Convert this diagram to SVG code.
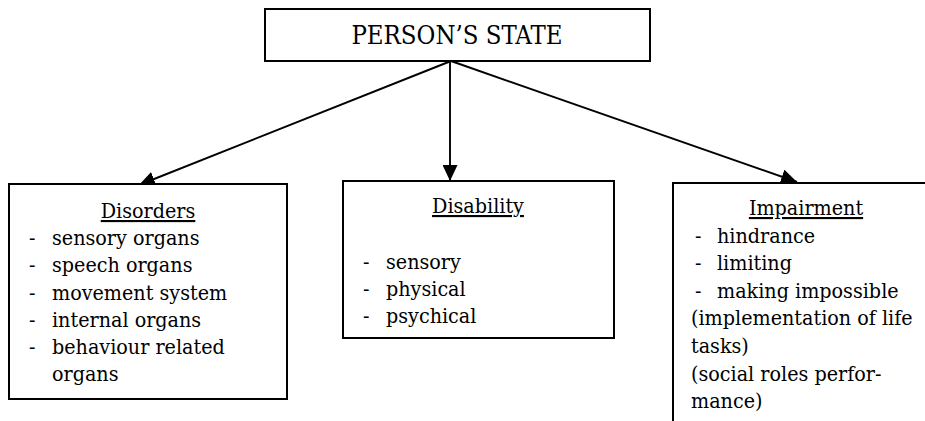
<svg xmlns="http://www.w3.org/2000/svg" width="925" height="421" viewBox="0 0 925 421">
<defs>
<style>
.box{fill:#fff;stroke:#000;stroke-width:2}
.t{font-family:'DejaVu Serif Condensed','DejaVu Serif',serif;font-stretch:condensed;font-size:21.3px;fill:#000}
.title{text-anchor:middle;text-decoration:underline}
.big{font-size:25.5px;text-anchor:middle}
.conn{stroke:#000;stroke-width:1.9;fill:none}
</style>
<marker id="ah" markerUnits="userSpaceOnUse" markerWidth="17" markerHeight="15" refX="16" refY="7.5" orient="auto">
<path d="M0,0 L16,7.5 L0,15 z" fill="#000"/>
</marker>
</defs>
<rect width="925" height="421" fill="#fff"/>
<g id="connectors">
<line class="conn" x1="451" y1="61" x2="139" y2="185" marker-end="url(#ah)"/>
<line class="conn" x1="450" y1="61" x2="450" y2="181" marker-end="url(#ah)"/>
<line class="conn" x1="451" y1="61" x2="797" y2="182" marker-end="url(#ah)"/>
</g>
<g id="person-state">
<rect class="box" x="265" y="9" width="385" height="52"/>
<text class="t big" x="457" y="44">PERSON’S STATE</text>
</g>
<g id="disorders">
<rect class="box" x="9" y="184" width="278" height="215"/>
<text class="t title" x="148" y="218">Disorders</text>
<text class="t"><tspan x="29" y="245.2">-</tspan><tspan x="52" y="245.2">sensory organs</tspan><tspan x="29" y="272.4">-</tspan><tspan x="52" y="272.4">speech organs</tspan><tspan x="29" y="299.6">-</tspan><tspan x="52" y="299.6">movement system</tspan><tspan x="29" y="326.8">-</tspan><tspan x="52" y="326.8">internal organs</tspan><tspan x="29" y="354">-</tspan><tspan x="52" y="354">behaviour related</tspan><tspan x="52" y="381.2">organs</tspan></text>
</g>
<g id="disability">
<rect class="box" x="343" y="181" width="271" height="157"/>
<text class="t title" x="478" y="213">Disability</text>
<text class="t"><tspan x="363" y="268.7">-</tspan><tspan x="386" y="268.7">sensory</tspan><tspan x="363" y="296">-</tspan><tspan x="386" y="296">physical</tspan><tspan x="363" y="323">-</tspan><tspan x="386" y="323">psychical</tspan></text>
</g>
<g id="impairment">
<rect class="box" x="673" y="183" width="300" height="300"/>
<text class="t title" x="806" y="215">Impairment</text>
<text class="t"><tspan x="695" y="242.6">-</tspan><tspan x="717" y="242.6">hindrance</tspan><tspan x="695" y="270.2">-</tspan><tspan x="717" y="270.2">limiting</tspan><tspan x="695" y="297.8">-</tspan><tspan x="717" y="297.8">making impossible</tspan><tspan x="691" y="325.4">(implementation of life</tspan><tspan x="691" y="353">tasks)</tspan><tspan x="691" y="380.6">(social roles perfor-</tspan><tspan x="691" y="408.2">mance)</tspan></text>
</g>
</svg>
